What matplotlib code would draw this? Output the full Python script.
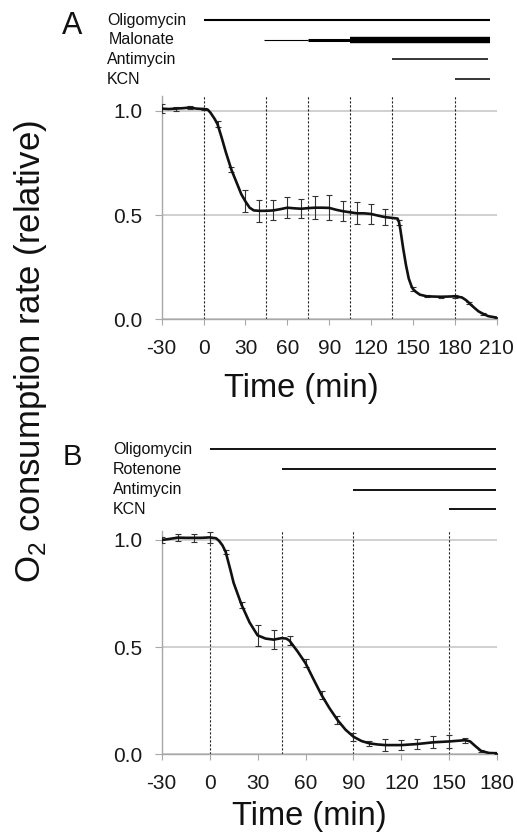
import matplotlib
matplotlib.use('Agg')
import matplotlib.pyplot as plt
import numpy as np
from matplotlib import font_manager
from matplotlib.transforms import blended_transform_factory

plt.rcParams['font.family'] = ['Liberation Sans', 'DejaVu Sans']
plt.rcParams['mathtext.fontset'] = 'custom'
plt.rcParams['mathtext.rm'] = 'Liberation Sans'
plt.rcParams['axes.unicode_minus'] = False

# narrow face for the axis titles if there is one
try:
    font_manager.findfont('Liberation Sans Narrow', fallback_to_default=False)
    title_family = ['Liberation Sans Narrow', 'Liberation Sans']
except Exception:
    title_family = ['Liberation Sans']

# ---------------- panel A data ----------------
a_time = [-30, -25, -20, -15, -10, -5, 0, 3, 5, 8, 10, 13, 16, 20, 24, 27, 30, 33, 36, 40,
          45, 50, 55, 60, 65, 70, 75, 80, 85, 90, 95, 100, 105, 110, 115, 120, 125, 130, 135,
          139, 140, 141, 143, 145, 147, 149, 150, 152, 155, 160, 170, 180, 185, 188, 190, 191,
          194, 197, 200, 204, 210]
a_rate = [1.010, 1.008, 1.010, 1.012, 1.015, 1.010, 1.008, 1.005, 0.990, 0.960, 0.935, 0.870,
          0.800, 0.716, 0.650, 0.600, 0.565, 0.535, 0.522, 0.520,
          0.520, 0.522, 0.528, 0.535, 0.532, 0.530, 0.533, 0.535, 0.535, 0.534, 0.525, 0.518,
          0.513, 0.508, 0.508, 0.505, 0.497, 0.490, 0.486,
          0.483, 0.465, 0.430, 0.340, 0.260, 0.195, 0.158, 0.145, 0.132, 0.118, 0.110, 0.108,
          0.110, 0.105, 0.092, 0.080, 0.073,
          0.055, 0.038, 0.027, 0.015, 0.008]
a_err_time = [-30, -20, -10, 0, 10, 20, 30, 40, 50, 60, 70, 80, 90, 100, 110, 120, 130, 140,
              150, 160, 170, 180, 190, 200, 210]
a_err_sd = [0.020, 0.010, 0.008, 0.005, 0.015, 0.012, 0.053, 0.053, 0.048, 0.050, 0.045,
            0.055, 0.060, 0.048, 0.053, 0.046, 0.038, 0.012, 0.008, 0.005, 0.005, 0.006,
            0.005, 0.004, 0.003]
a_marks = [0, 45, 75, 105, 135, 180]
a_drugs = ['Oligomycin', 'Malonate', 'Antimycin', 'KCN']
a_drug_start = [0, 45, 135, 180]
a_drug_end = [205, 205, 204, 205]
malonate_steps = [43, 75, 105, 205]   # three doses

# ---------------- panel B data ----------------
b_time = [-30, -25, -20, -15, -10, -5, 0, 4, 6, 8, 10, 13, 15, 20, 25, 30, 35, 40, 45, 48,
          50, 53, 55, 60, 65, 70, 75, 80, 85, 90, 95, 100, 105, 110, 120, 130, 140, 150, 155,
          160, 163, 166, 170, 175, 180]
b_rate = [1.000, 1.005, 1.011, 1.010, 1.010, 1.010, 1.012, 1.008, 0.995, 0.975, 0.945, 0.860,
          0.800, 0.697, 0.615, 0.555, 0.540, 0.535, 0.542, 0.540,
          0.530, 0.500, 0.480, 0.425, 0.350, 0.277, 0.215, 0.160, 0.115, 0.082, 0.062, 0.051,
          0.046, 0.043, 0.043, 0.048, 0.056, 0.060, 0.063,
          0.066, 0.060, 0.040, 0.015, 0.006, 0.005]
b_err_time = [-30, -20, -10, 0, 10, 20, 30, 40, 50, 60, 70, 80, 90, 100, 110, 120, 130, 140,
              150, 160, 170, 180]
b_err_sd = [0.015, 0.015, 0.020, 0.027, 0.010, 0.015, 0.050, 0.045, 0.020, 0.020, 0.018,
            0.018, 0.018, 0.010, 0.028, 0.025, 0.025, 0.028, 0.030, 0.012, 0.005, 0.003]
b_marks = [0, 45, 90, 150]
b_drugs = ['Oligomycin', 'Rotenone', 'Antimycin', 'KCN']
b_drug_start = [0, 45, 90, 150]
b_drug_end = [179, 179, 179, 179]

W, H = 517, 838
fig = plt.figure(figsize=(W / 100, H / 100), dpi=100)


def fx(x):
    return x / W


def fy(y):
    return 1 - y / H


gray = '#a8a8a8'
txt = '#1a1a1a'


def panel(rect, t, r, et, esd, xmax, ytop, marks):
    ax = fig.add_axes(rect)
    t = np.array(t)
    r = np.array(r)
    ax.plot(t, r, color='#111111', lw=1.9, zorder=4, solid_capstyle='round')
    sel = np.isin(t, et)
    ax.errorbar(t[sel], r[sel], yerr=esd, fmt='none', ecolor='#333333', elinewidth=0.8,
                capsize=2.4, capthick=0.8, zorder=3)
    for m in marks:
        ax.axvline(m, color='#222222', lw=0.8, ls=(0, (2, 1.6)), zorder=2)
    ax.set_xlim(-30, xmax)
    ax.set_ylim(0, ytop)
    ax.set_xticks(range(-30, xmax + 1, 30))
    ax.set_yticks([0, 0.5, 1.0])
    ax.set_yticklabels(['0.0', '0.5', '1.0'])
    ax.yaxis.grid(True, color='#c4c4c4', lw=1.1)
    ax.set_axisbelow(True)
    for s in ['top', 'right']:
        ax.spines[s].set_visible(False)
    for s in ['left', 'bottom']:
        ax.spines[s].set_color(gray)
        ax.spines[s].set_linewidth(1.0)
    ax.tick_params(axis='x', direction='out', length=4, color=gray, pad=10.5,
                   labelsize=15, labelcolor=txt)
    ax.tick_params(axis='y', direction='out', length=5, color=gray, pad=9,
                   labelsize=15, labelcolor=txt)
    return ax


ax_a = panel([fx(161.7), fy(319.3), fx(496.7) - fx(161.7), fy(96.1) - fy(319.3)],
             a_time, a_rate, a_err_time, a_err_sd, 210, 1.07, a_marks)
ax_b = panel([fx(161.7), fy(754.3), fx(497.3) - fx(161.7), fy(531.4) - fy(754.3)],
             b_time, b_rate, b_err_time, b_err_sd, 180, 1.04, b_marks)

# treatment bars above each panel
tr_a = blended_transform_factory(ax_a.transData, fig.transFigure)
rows_a = [20, 40, 59.5, 79]
for i, name in enumerate(a_drugs):
    fig.text(fx(109 if name == 'Malonate' else 107), fy(rows_a[i]), name, fontsize=11.5,
             color='#111111', ha='left', va='center')
    if name == 'Malonate':
        for (s, e), lw in zip(zip(malonate_steps[:-1], malonate_steps[1:]), [0.8, 2.2, 4.6]):
            ax_a.plot([s, e], [fy(rows_a[i])] * 2, color='black', lw=lw, transform=tr_a,
                      clip_on=False, solid_capstyle='butt')
    else:
        ax_a.plot([a_drug_start[i], a_drug_end[i]], [fy(rows_a[i])] * 2, color='black',
                  lw=1.5 if i == 0 else 1.1, transform=tr_a, clip_on=False,
                  solid_capstyle='butt')

tr_b = blended_transform_factory(ax_b.transData, fig.transFigure)
rows_b = [449.5, 469.5, 489.5, 509]
for i, name in enumerate(b_drugs):
    fig.text(fx(113), fy(rows_b[i]), name, fontsize=11.5, color='#111111',
             ha='left', va='center')
    ax_b.plot([b_drug_start[i], b_drug_end[i]], [fy(rows_b[i])] * 2, color='black',
              lw=1.3, transform=tr_b, clip_on=False, solid_capstyle='butt')

fig.text(fx(72), fy(26), 'A', fontsize=22, color='#111111', ha='center', va='center')
fig.text(fx(72), fy(457), 'B', fontsize=21, color='#111111', ha='center', va='center')

fig.text(fx(301), fy(388), 'Time (min)', fontsize=23.5, family=title_family, color='#111111',
         ha='center', va='center')
fig.text(fx(309.5), fy(816), 'Time (min)', fontsize=23.5, family=title_family, color='#111111',
         ha='center', va='center')
fig.text(fx(31), fy(352), r'O$_\mathregular{2}$ consumption rate (relative)', fontsize=25,
         family=title_family, color='#111111', rotation=90, ha='center', va='center')

fig.savefig('out.png', dpi=100)
